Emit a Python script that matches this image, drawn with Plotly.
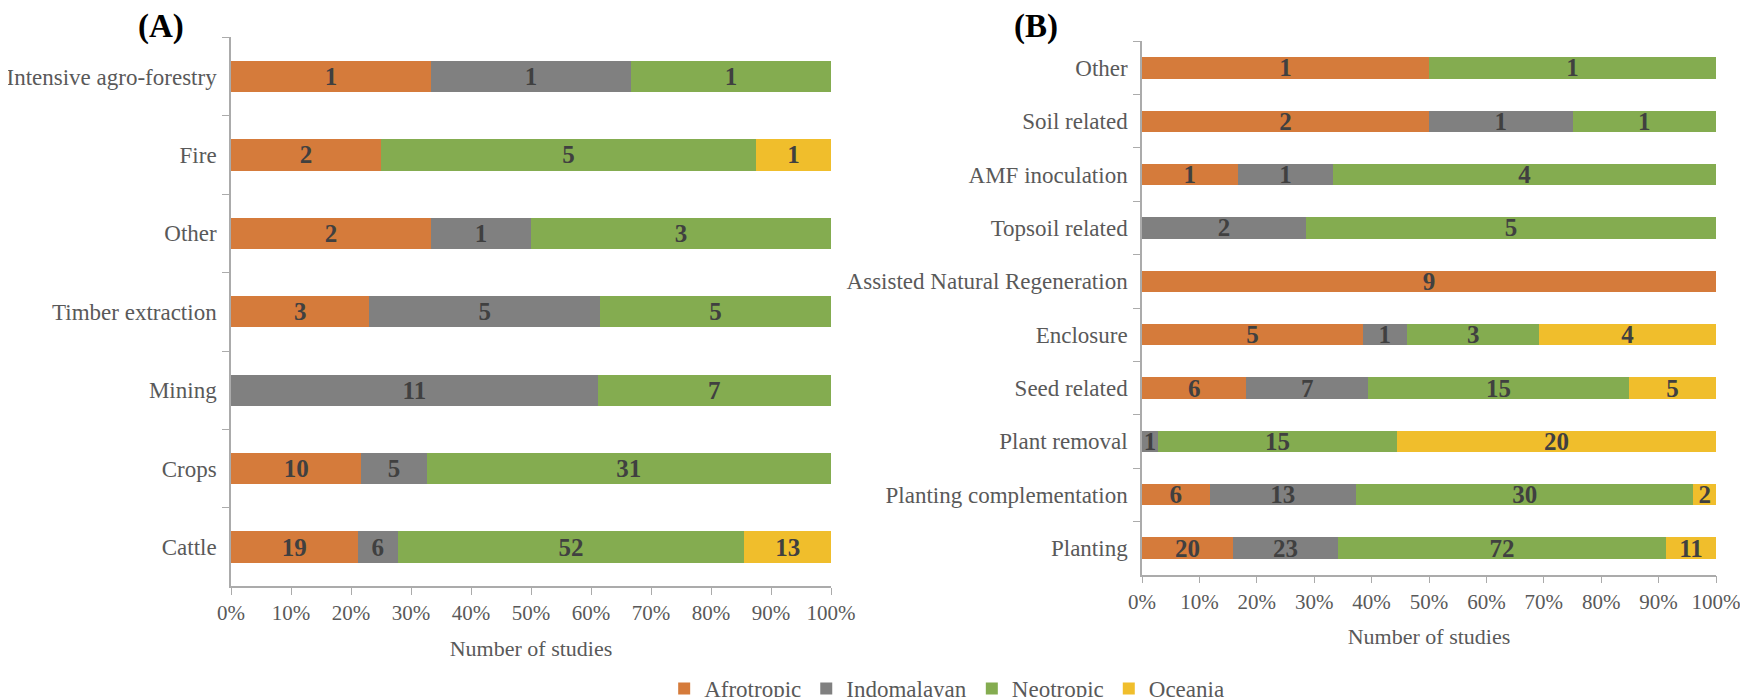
import plotly.graph_objects as go

regions = ["Afrotropic", "Indomalayan", "Neotropic", "Oceania"]
colors = ["#D57B3B", "#808080", "#84AC50", "#F0BE2C"]

# Panel A (top to bottom)
cats_a = ["Intensive agro-forestry", "Fire", "Other", "Timber extraction",
          "Mining", "Crops", "Cattle"]
afro_a = [1, 2, 2, 3, 0, 10, 19]
indo_a = [1, 0, 1, 5, 11, 5, 6]
neo_a = [1, 5, 3, 5, 7, 31, 52]
oce_a = [0, 1, 0, 0, 0, 0, 13]

# Panel B (top to bottom)
cats_b = ["Other", "Soil related", "AMF inoculation", "Topsoil related",
          "Assisted Natural Regeneration", "Enclosure", "Seed related",
          "Plant removal", "Planting complementation", "Planting"]
afro_b = [1, 2, 1, 0, 9, 5, 6, 0, 6, 20]
indo_b = [0, 1, 1, 2, 0, 1, 7, 1, 13, 23]
neo_b = [1, 1, 4, 5, 0, 3, 15, 15, 30, 72]
oce_b = [0, 0, 0, 0, 0, 4, 5, 20, 2, 11]

x_ticks = list(range(0, 101, 10))

W, H = 1748, 697
fig = go.Figure()

series_a = [afro_a, indo_a, neo_a, oce_a]
series_b = [afro_b, indo_b, neo_b, oce_b]

for i, name in enumerate(regions):
    for panel, (cats, vals) in enumerate([(cats_a, series_a[i]), (cats_b, series_b[i])]):
        fig.add_trace(go.Bar(
            y=cats, x=vals, orientation="h", name=name,
            marker=dict(color=colors[i], line=dict(width=0)),
            text=[str(v) if v > 0 else "" for v in vals],
            textposition="inside", insidetextanchor="middle", textangle=0,
            textfont=dict(family="Liberation Serif", size=25, color="#404040", weight="bold"),
            xaxis="x" if panel == 0 else "x2",
            yaxis="y" if panel == 0 else "y2",
            legendgroup=name, showlegend=(panel == 0),
            hoverinfo="skip",
        ))

axis_line = "#ABABAB"
tick_font = dict(family="Liberation Serif", size=21, color="#595959")

def xax(domain, anchor):
    return dict(domain=domain, anchor=anchor, range=[0, 100], tickvals=x_ticks,
                ticktext=[f"{t}%" for t in x_ticks], ticks="outside", ticklen=7,
                tickcolor=axis_line, showline=True, linecolor=axis_line, linewidth=1.5,
                showgrid=False, zeroline=False, tickfont=tick_font, fixedrange=True,
                title=dict(text="Number of studies",
                           font=dict(family="Liberation Serif", size=22, color="#595959"),
                           standoff=16))

def yax(domain, anchor, cats):
    return dict(domain=domain, anchor=anchor, type="category",
                categoryorder="array", categoryarray=cats, autorange="reversed",
                tickson="boundaries", ticks="outside", ticklen=7, tickcolor=axis_line,
                showline=True, linecolor=axis_line, linewidth=1.5, showgrid=False,
                tickfont=dict(family="Liberation Serif", size=23, color="#595959"),
                ticklabelstandoff=8, fixedrange=True)

fig.update_layout(
    width=W, height=H,
    margin=dict(l=0, r=0, t=0, b=0, autoexpand=False),
    paper_bgcolor="white", plot_bgcolor="white",
    barmode="stack", barnorm="percent", bargap=0.6,
    uniformtext=dict(minsize=25, mode="show"),
    xaxis=xax([223 / W, 823 / W], "y"),
    yaxis=yax([1 - 578.3 / H, 1 - 29.3 / H], "x", cats_a),
    xaxis2=xax([1134 / W, 1708 / W], "y2"),
    yaxis2=yax([1 - 566.7 / H, 1 - 33.3 / H], "x2", cats_b),
    legend=dict(orientation="h", x=0.537, xanchor="center", y=1 - 659 / H,
                yanchor="top", font=dict(family="Liberation Serif", size=23, color="#595959"),
                itemwidth=30, traceorder="normal"),
    annotations=[
        dict(text="(A)", x=153 / W, y=1 - 18.5 / H, xref="paper", yref="paper",
             xanchor="center", yanchor="middle", showarrow=False,
             font=dict(family="Liberation Serif", size=33, color="black", weight="bold")),
        dict(text="(B)", x=1028 / W, y=1 - 18.5 / H, xref="paper", yref="paper",
             xanchor="center", yanchor="middle", showarrow=False,
             font=dict(family="Liberation Serif", size=33, color="black", weight="bold")),
    ],
)

fig.write_html("out.html")
